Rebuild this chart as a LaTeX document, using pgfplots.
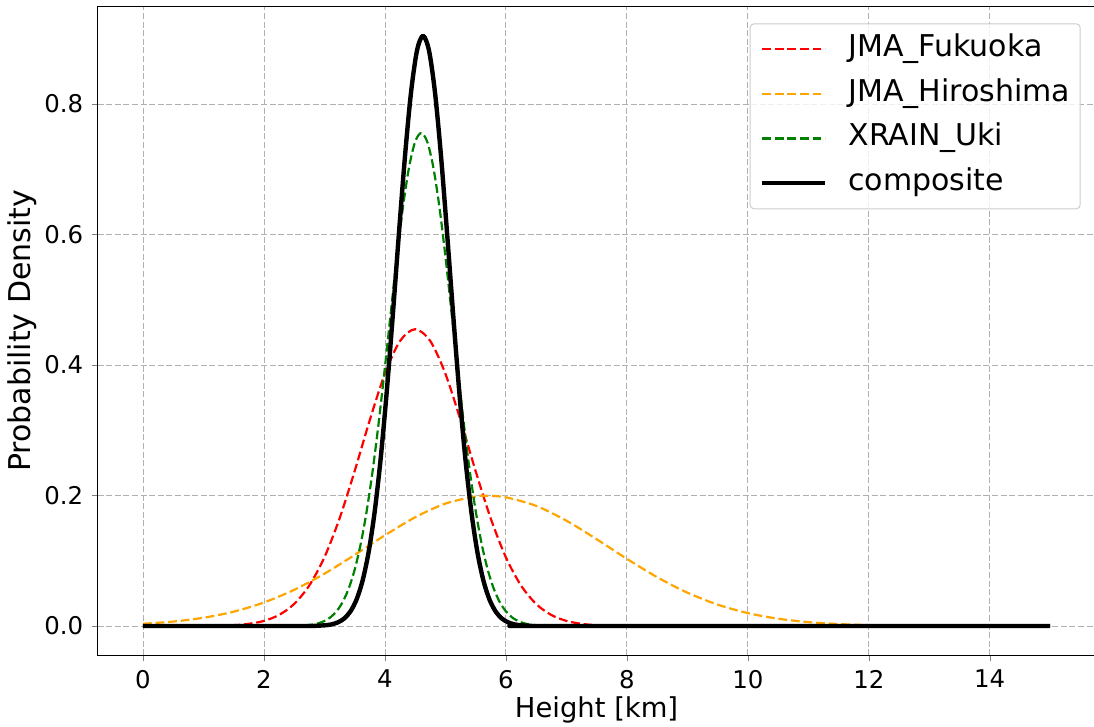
\documentclass[border=0pt]{standalone}
\usepackage{fontspec}
\setmainfont{DejaVu Sans}
\usepackage{pgfplots}
\pgfplotsset{compat=1.18}
\definecolor{mplred}{HTML}{FF0000}
\definecolor{mplorange}{HTML}{FFA500}
\definecolor{mplgreen}{HTML}{008000}
\definecolor{gridgray}{HTML}{B0B0B0}
\definecolor{legedge}{HTML}{CCCCCC}
\begin{document}
\fontsize{12.2pt}{14.5pt}\selectfont
\begin{tikzpicture}
\useasboundingbox (-48.8pt,-35.75pt) rectangle (498.2pt,327.75pt);
\begin{axis}[
  at={(0pt,0pt)}, anchor=south west,
  width=499pt, height=324.6pt, scale only axis,
  xmin=-0.75, xmax=15.75, ymin=-0.0452, ymax=0.9498,
  xtick={0,2,...,14}, ytick={0,0.2,0.4,0.6,0.8},
  /pgf/number format/assume math mode=true,
  tick label style={font=\fontsize{12.2pt}{14.5pt}\selectfont},
  y tick label style={/pgf/number format/.cd,fixed,fixed zerofill,precision=1},
  grid=major,
  major grid style={dash pattern=on 3pt off 1.3pt, color=gridgray, line width=0.4pt},
  tick align=outside, tick pos=left, major tick length=3pt,
  axis line style={line width=0.6pt},
  xlabel={Height [km]}, ylabel={Probability Density},
  every axis x label/.style={at={(axis description cs:0.5,-0.0839)}, anchor=center,
    font=\fontsize{13.7pt}{16pt}\selectfont},
  every axis y label/.style={at={(axis description cs:-0.0758,0.5)}, anchor=center, rotate=90,
    font=\fontsize{15pt}{18pt}\selectfont},
  legend cell align=left,
  legend style={at={(0.9851,0.9738)}, anchor=north east, draw=legedge, line width=0.5pt,
    rounded corners=2pt, fill=white, fill opacity=0.8, text opacity=1,
    font=\fontsize{15pt}{18pt}\selectfont,
    nodes={inner sep=0pt, text height=11pt, text depth=3.6pt},
    row sep=7.7pt, column sep=10.5pt, inner xsep=5pt, inner ysep=5.5pt},
  legend image code/.code={\draw[#1] (0pt,0pt) -- (31.5pt,0pt);},
  every axis plot/.append style={line join=round},
]
\addplot[mplred, line width=1.1pt, dash pattern=on 4.4pt off 1.9pt, smooth, tension=0.5] coordinates {
(0,0) (1.0,0.00016) (1.5,0.00131) (1.75,0.00333) (2.0,0.00782) (2.25,0.01693)
(2.5,0.03379) (2.75,0.06213) (3.0,0.10536) (3.25,0.16473) (3.5,0.23746)
(3.75,0.31556) (4.0,0.38667) (4.25,0.43679) (4.5,0.4549) (4.75,0.43679)
(5.0,0.38667) (5.25,0.31556) (5.5,0.23746) (5.75,0.16473) (6.0,0.10536)
(6.25,0.06213) (6.5,0.03379) (6.75,0.01693) (7.0,0.00782) (7.25,0.00333)
(7.5,0.00131) (8.0,0.00016) (8.5,0.00001) (15,0)
};
\addlegendentry{JMA\_Fukuoka}
\addplot[mplorange, line width=1.1pt, dash pattern=on 4.4pt off 1.9pt, smooth, tension=0.5] coordinates {
(0,0.00344) (0.5,0.00679) (1.0,0.01261) (1.5,0.02199) (2.0,0.03604) (2.5,0.05546)
(3.0,0.08019) (3.5,0.10893) (4.0,0.13900) (4.5,0.16661) (5.0,0.18762)
(5.5,0.19848) (5.7,0.19947) (6.0,0.19724) (6.5,0.18414) (7.0,0.16148) (7.5,0.13304)
(8.0,0.10297) (8.5,0.07486) (9.0,0.05114) (9.5,0.03281) (10.0,0.01978)
(10.5,0.01120) (11.0,0.00596) (11.5,0.00298) (12.0,0.00140) (12.5,0.00062)
(13.0,0.00026) (13.5,0.0001) (14.0,0.00004) (14.5,0.00001) (15,0)
};
\addlegendentry{JMA\_Hiroshima}
\addplot[mplgreen, line width=1.1pt, dash pattern=on 4.4pt off 1.9pt, smooth, tension=0.5] coordinates {
(0,0) (2.4,0.00013) (2.6,0.00058) (2.8,0.00226) (2.9,0.00424) (3.0,0.00766)
(3.1,0.01336) (3.2,0.02247) (3.3,0.03647) (3.4,0.05712) (3.5,0.08627)
(3.6,0.12572) (3.7,0.17676) (3.8,0.23977) (3.9,0.31378) (4.0,0.39619)
(4.1,0.48258) (4.2,0.56712) (4.3,0.64297) (4.4,0.70330) (4.5,0.74217)
(4.6,0.7556) (4.7,0.74217) (4.8,0.70330) (4.9,0.64297) (5.0,0.56712)
(5.1,0.48258) (5.2,0.39619) (5.3,0.31378) (5.4,0.23977) (5.5,0.17676)
(5.6,0.12572) (5.7,0.08627) (5.8,0.05712) (5.9,0.03647) (6.0,0.02247)
(6.1,0.01336) (6.2,0.00766) (6.3,0.00424) (6.4,0.00226) (6.6,0.00058)
(6.8,0.00013) (15,0)
};
\addlegendentry{XRAIN\_Uki}
\addplot[black, line width=2.2pt, smooth, tension=0.5] coordinates {
(0,0) (2.63,0.00003) (2.83,0.00022) (3.03,0.00125) (3.13,0.00278) (3.23,0.00586)
(3.33,0.01173) (3.43,0.02232) (3.53,0.04032) (3.63,0.06918) (3.73,0.11276)
(3.83,0.17455) (3.93,0.25666) (4.03,0.35851) (4.13,0.47568) (4.23,0.59952)
(4.33,0.71772) (4.43,0.81619) (4.53,0.88164) (4.63,0.9046) (4.73,0.88164)
(4.83,0.81619) (4.93,0.71772) (5.03,0.59952) (5.13,0.47568) (5.23,0.35851)
(5.33,0.25666) (5.43,0.17455) (5.53,0.11276) (5.63,0.06918) (5.73,0.04032)
(5.83,0.02232) (5.93,0.01173) (6.03,0.00586) (6.13,0.00278) (6.23,0.00125)
(6.43,0.00022) (6.63,0.00003) (15,0)
};
\addlegendentry{composite}
\end{axis}
\end{tikzpicture}
\end{document}
